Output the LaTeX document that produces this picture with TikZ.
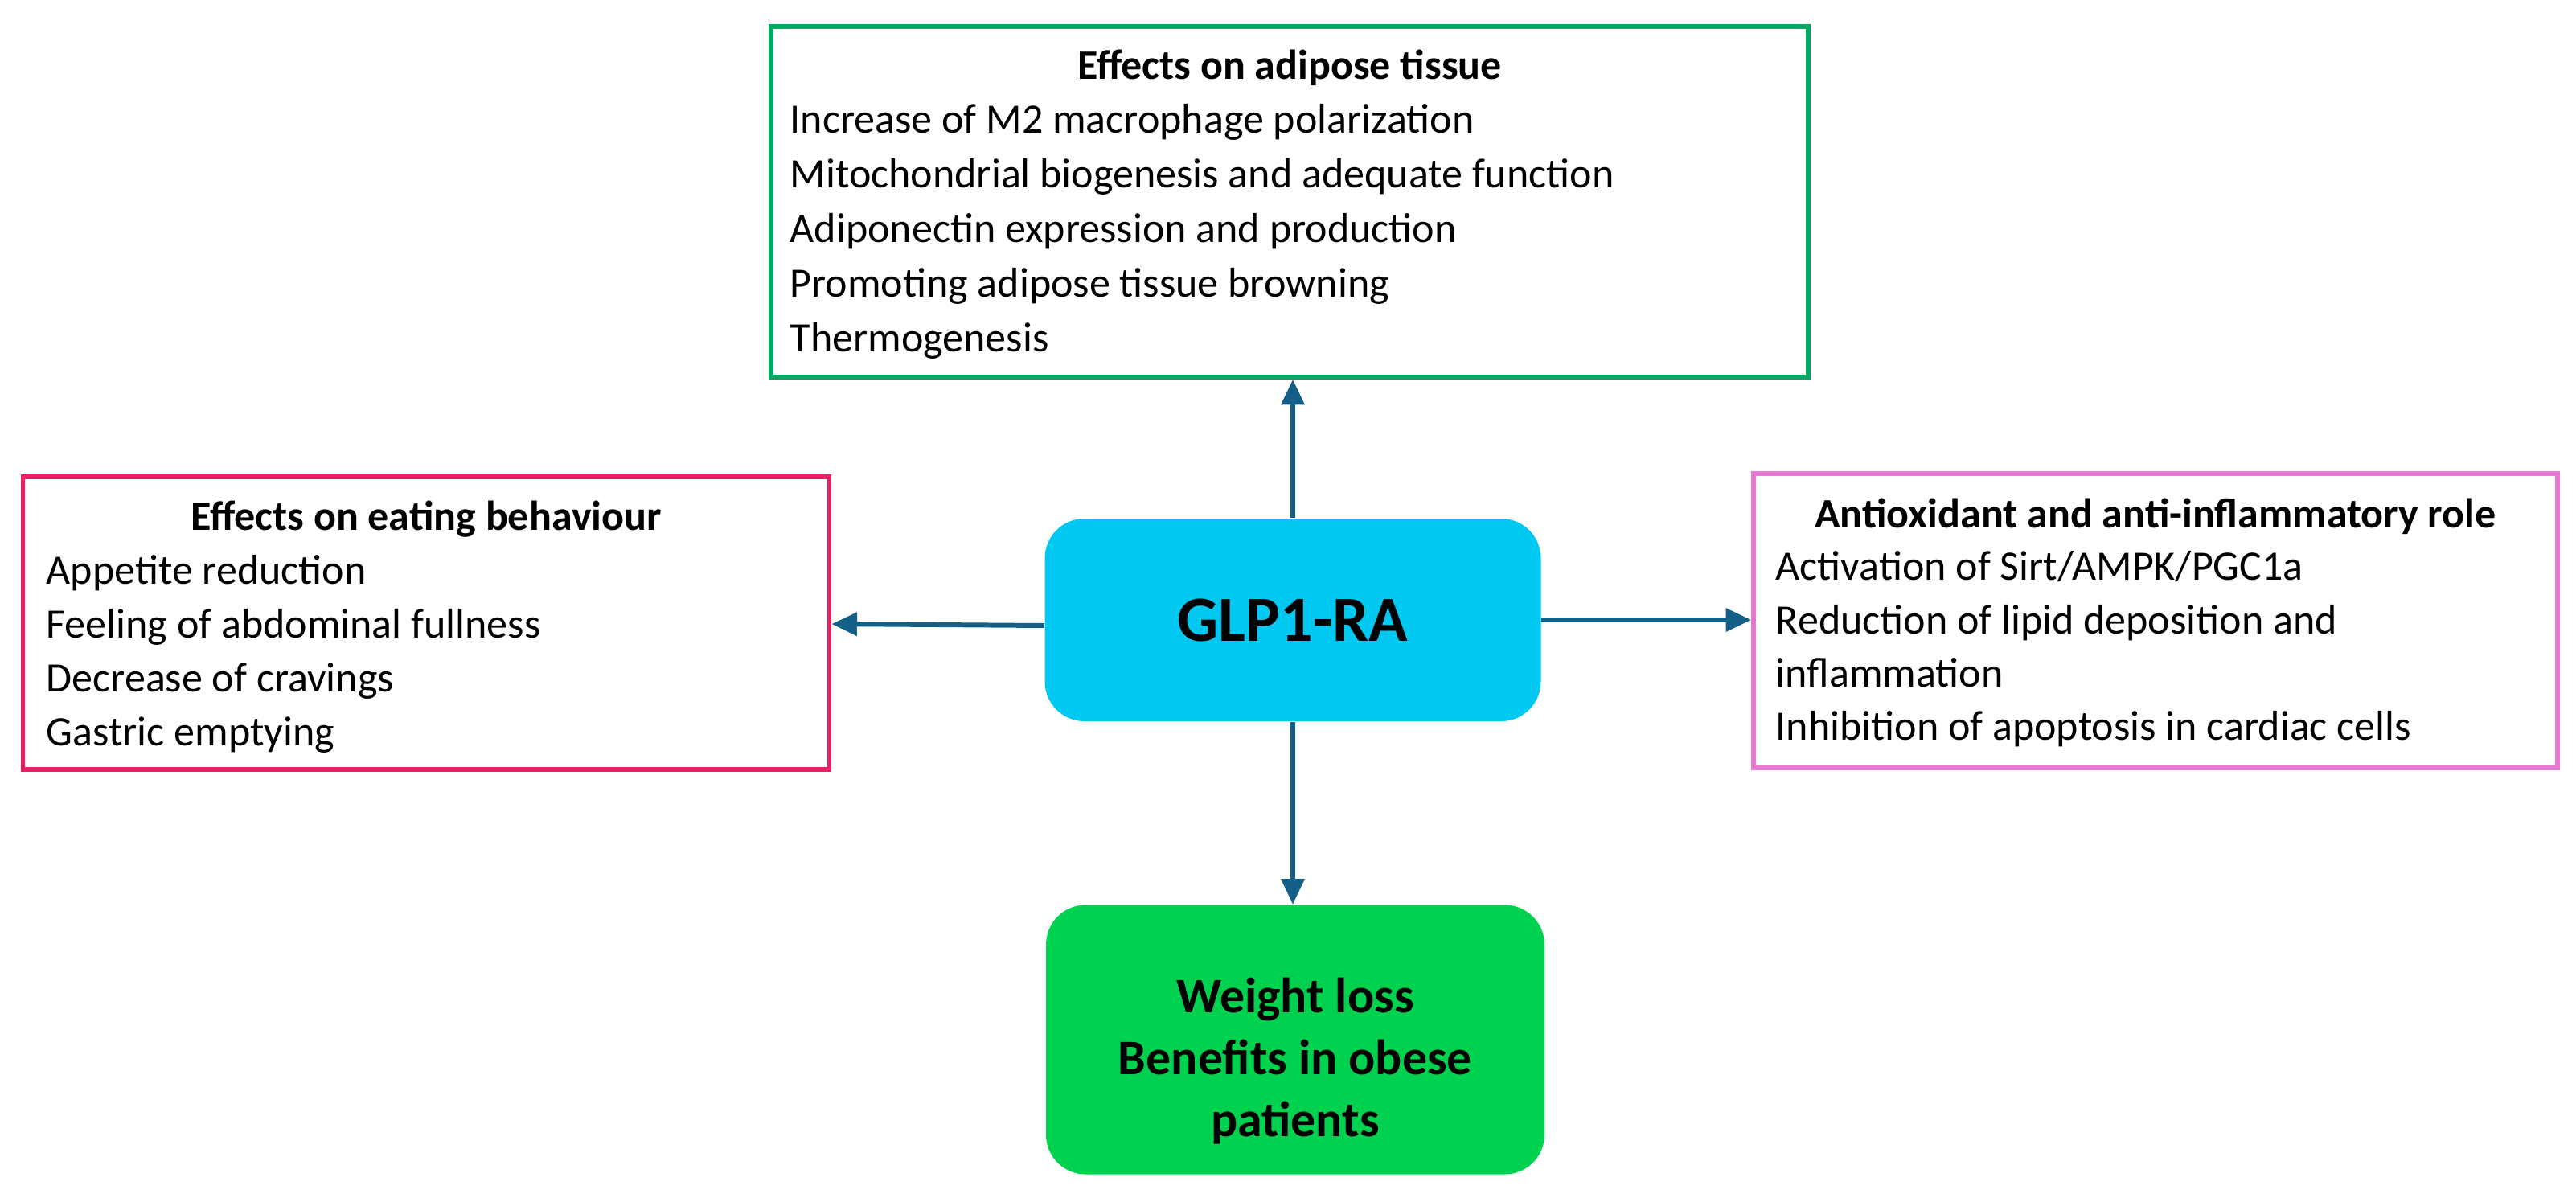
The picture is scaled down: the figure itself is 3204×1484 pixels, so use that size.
\documentclass[tikz,border=0pt]{standalone}
\usepackage{fontspec}
\setmainfont{Carlito}
\usetikzlibrary{arrows.meta}
\definecolor{gtop}{RGB}{0,170,100}
\definecolor{pleft}{RGB}{238,30,100}
\definecolor{pright}{RGB}{232,120,210}
\definecolor{cyanbox}{RGB}{0,200,240}
\definecolor{greenbox}{RGB}{0,210,80}
\definecolor{arr}{RGB}{20,95,135}
\begin{document}
\begin{tikzpicture}[x=0.01cm,y=-0.01cm,
  frame/.style={draw,line width=1.6pt,minimum width=#1},
  rbox/.style={rounded corners=14pt,inner sep=0pt},
  txt/.style={anchor=base west,inner sep=0pt,font=\fontsize{14.8pt}{19pt}\selectfont},
  ttl/.style={anchor=base,inner sep=0pt,font=\fontsize{14.8pt}{19pt}\selectfont\bfseries},
  conn/.style={draw=arr,line width=1.7pt,-{Triangle[length=9pt,width=8pt]}}]
\useasboundingbox (0,0) rectangle (3204,1484);
% boxes
\node[frame,draw=gtop,minimum width=1290*0.01cm,minimum height=436*0.01cm] (top) at (1604,251) {};
\node[frame,draw=pleft,minimum width=1003*0.01cm,minimum height=364*0.01cm] (left) at (530,775) {};
\node[frame,draw=pright,minimum width=1000*0.01cm,minimum height=366*0.01cm] (right) at (2681,772) {};
\node[rbox,fill=cyanbox,minimum width=617*0.01cm,minimum height=252*0.01cm,font=\fontsize{22.8pt}{26pt}\selectfont\bfseries] (glp) at (1608,771) {GLP1-RA};
\node[rbox,fill=greenbox,minimum width=620*0.01cm,minimum height=335*0.01cm] (wl) at (1611,1293) {};
% top text
\node[ttl] (t0) at (1604,98) {Effects on adipose tissue};
\node[txt] (t1) at (982,165) {Increase of M2 macrophage polarization};
\node[txt] (t2) at (982,233) {Mitochondrial biogenesis and adequate function};
\node[txt] (t3) at (982,301) {Adiponectin expression and production};
\node[txt] (t4) at (982,369) {Promoting adipose tissue browning};
\node[txt] (t5) at (982,437) {Thermogenesis};
% left text
\node[ttl] (l0) at (530,659) {Effects on eating behaviour};
\node[txt] (l1) at (57,726) {Appetite reduction};
\node[txt] (l2) at (57,793) {Feeling of abdominal fullness};
\node[txt] (l3) at (57,860) {Decrease of cravings};
\node[txt] (l4) at (57,927) {Gastric emptying};
% right text
\node[ttl] (r0) at (2681,656) {Antioxidant and anti-inflammatory role};
\node[txt] (r1) at (2208,721) {Activation of Sirt/AMPK/PGC1a};
\node[txt] (r2) at (2208,788) {Reduction of lipid deposition and};
\node[txt] (r3) at (2208,854) {inflammation};
\node[txt] (r4) at (2208,920) {Inhibition of apoptosis in cardiac cells};
% bottom text
\node[anchor=base,inner sep=0pt,font=\fontsize{17.6pt}{22pt}\selectfont\bfseries] (b1) at (1611,1259) {Weight loss};
\node[anchor=base,inner sep=0pt,font=\fontsize{17.6pt}{22pt}\selectfont\bfseries] (b2) at (1611,1336) {Benefits in obese};
\node[anchor=base,inner sep=0pt,font=\fontsize{17.6pt}{22pt}\selectfont\bfseries] (b3) at (1611,1413) {patients};
% connectors
\draw[conn] (glp.north) -- (top.south -| glp.north);
\draw[conn] (glp.south) -- (wl.north -| glp.south);
\draw[conn] (glp.east |- 0,771) -- (right.west |- 0,771);
\draw[conn] (glp.west |- 0,778) -- (left.east |- 0,776);
\end{tikzpicture}
\end{document}
